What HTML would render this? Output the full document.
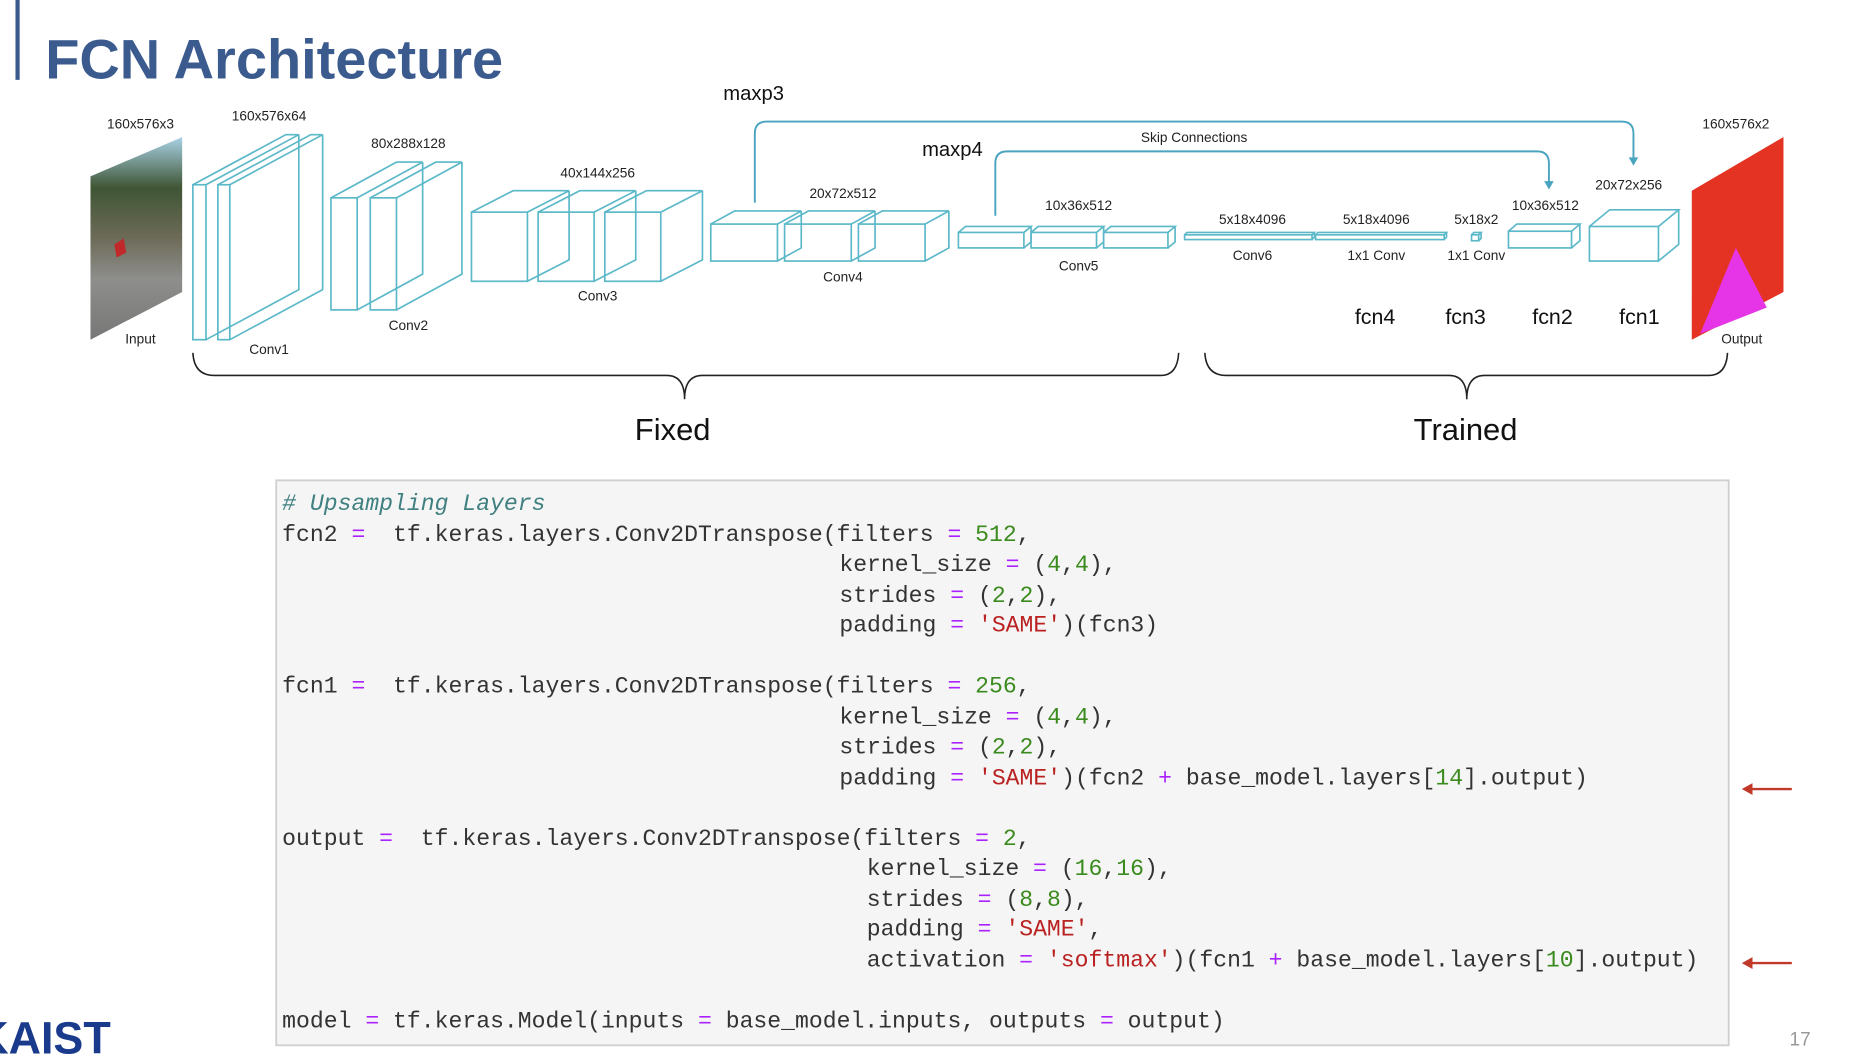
<!DOCTYPE html>
<html><head><meta charset="utf-8"><style>
html,body{margin:0;padding:0;background:#fff;width:1868px;height:1062px;overflow:hidden}
svg{display:block}
.lbl{font-family:"Liberation Sans",sans-serif;font-size:11.5px;fill:#222;text-anchor:middle}
.bx rect,.bx path{fill:none;stroke:#5bb8c8;stroke-width:1.4}
.code{font-family:"Liberation Mono","DejaVu Sans Mono",monospace;font-size:19.4px;fill:#333;white-space:pre}
.op{fill:#aa22ff}.num{fill:#3a8a1e}.str{fill:#ba2121}.cm{fill:#408080;font-style:italic}
</style></head><body>
<svg width="1868" height="1062" viewBox="0 0 1569 891" preserveAspectRatio="none" xmlns="http://www.w3.org/2000/svg">
<defs>
<linearGradient id="ph" x1="0" y1="0" x2="0" y2="1">
<stop offset="0" stop-color="#a9d2e6"/><stop offset="0.25" stop-color="#3f5534"/><stop offset="0.5" stop-color="#6d6b58"/><stop offset="0.7" stop-color="#8e8e8c"/><stop offset="1" stop-color="#777"/></linearGradient>
</defs>
<rect x="13" y="0" width="3.5" height="67" fill="#3a5a8c"/>
<text x="38" y="66" font-family="Liberation Sans,sans-serif" font-weight="bold" font-size="47" fill="#3b5b8f">FCN Architecture</text>

<polygon points="76,148 153,115 153,245 76,285" fill="url(#ph)"/>
<polygon points="96,205 104,200 106,212 98,216" fill="#c0282a"/>

<g class="bx">
<rect x="162" y="155" width="11" height="130"/><path d="M162 155 l78 -42 h11 l-78 42 m78 -42 v130 l-78 42"/>
<rect x="183" y="155" width="10" height="130"/><path d="M183 155 l78 -42 h10 l-78 42 m78 -42 v130 l-78 42"/>
<rect x="278" y="166" width="22" height="94"/><path d="M278 166 l55 -30 h22 l-55 30 m55 -30 v94 l-55 30"/>
<rect x="311" y="166" width="22" height="94"/><path d="M311 166 l55 -30 h22 l-55 30 m55 -30 v94 l-55 30"/>
<rect x="396" y="178" width="47" height="58"/><path d="M396 178 l35 -18 h47 l-35 18 m35 -18 v58 l-35 18"/>
<rect x="452" y="178" width="47" height="58"/><path d="M452 178 l35 -18 h47 l-35 18 m35 -18 v58 l-35 18"/>
<rect x="508" y="178" width="47" height="58"/><path d="M508 178 l35 -18 h47 l-35 18 m35 -18 v58 l-35 18"/>
<rect x="597" y="188" width="56" height="31"/><path d="M597 188 l20 -11 h56 l-20 11 m20 -11 v31 l-20 11"/>
<rect x="659" y="188" width="56" height="31"/><path d="M659 188 l20 -11 h56 l-20 11 m20 -11 v31 l-20 11"/>
<rect x="721" y="188" width="56" height="31"/><path d="M721 188 l20 -11 h56 l-20 11 m20 -11 v31 l-20 11"/>
<rect x="805" y="195" width="55" height="13"/><path d="M805 195 l6 -5 h55 l-6 5 m6 -5 v13 l-6 5"/>
<rect x="866" y="195" width="55" height="13"/><path d="M866 195 l6 -5 h55 l-6 5 m6 -5 v13 l-6 5"/>
<rect x="927" y="195" width="54" height="13"/><path d="M927 195 l6 -5 h54 l-6 5 m6 -5 v13 l-6 5"/>
<rect x="995" y="197" width="107" height="4"/><path d="M995 197 l2 -2 h107 l-2 2 m2 -2 v4 l-2 2"/>
<rect x="1105" y="197" width="108" height="4"/><path d="M1105 197 l2 -2 h108 l-2 2 m2 -2 v4 l-2 2"/>
<rect x="1236" y="197" width="6" height="5"/><path d="M1236 197 l2 -2 h6 l-2 2 m2 -2 v5 l-2 2"/>
<rect x="1267" y="194" width="53" height="14"/><path d="M1267 194 l7 -6 h53 l-7 6 m7 -6 v14 l-7 6"/>
<rect x="1335" y="190" width="58" height="29"/><path d="M1335 190 l17 -14 h58 l-17 14 m17 -14 v29 l-17 14"/>
</g>

<polygon points="1421,160 1498,115 1498,245 1421,285" fill="#e43323"/>
<polygon points="1428,280 1458,208 1484,258" fill="#e535e6"/>

<g fill="none" stroke="#4aa3bf" stroke-width="1.6">
<path d="M634 170 V112 Q634 102 644 102 H1362 Q1372 102 1372 112 V135"/>
<path d="M836 181 V137 Q836 127 846 127 H1291 Q1301 127 1301 137 V155"/>
<path d="M162 296 Q163 315 180 315 H560 Q575 315 575 335 Q575 315 590 315 H975 Q989 315 990 296" stroke="#222" stroke-width="1.3"/>
<path d="M1012 296 Q1013 315 1030 315 H1217 Q1232 315 1232 335 Q1232 315 1247 315 H1435 Q1450 315 1451 296" stroke="#222" stroke-width="1.3"/>
</g>
<polygon points="1368,132 1376,132 1372,139" fill="#4aa3bf"/>
<polygon points="1297,152 1305,152 1301,159" fill="#4aa3bf"/>

<text class="lbl" x="118" y="108">160x576x3</text>
<text class="lbl" x="226" y="101">160x576x64</text>
<text class="lbl" x="343" y="124">80x288x128</text>
<text class="lbl" x="502" y="149">40x144x256</text>
<text class="lbl" x="708" y="166">20x72x512</text>
<text class="lbl" x="906" y="176">10x36x512</text>
<text class="lbl" x="1052" y="188">5x18x4096</text>
<text class="lbl" x="1156" y="188">5x18x4096</text>
<text class="lbl" x="1240" y="188">5x18x2</text>
<text class="lbl" x="1298" y="176">10x36x512</text>
<text class="lbl" x="1368" y="159">20x72x256</text>
<text class="lbl" x="1458" y="108">160x576x2</text>
<text class="lbl" x="118" y="288">Input</text>
<text class="lbl" x="226" y="297">Conv1</text>
<text class="lbl" x="343" y="277">Conv2</text>
<text class="lbl" x="502" y="252">Conv3</text>
<text class="lbl" x="708" y="236">Conv4</text>
<text class="lbl" x="906" y="227">Conv5</text>
<text class="lbl" x="1052" y="218">Conv6</text>
<text class="lbl" x="1156" y="218">1x1 Conv</text>
<text class="lbl" x="1240" y="218">1x1 Conv</text>
<text class="lbl" x="1463" y="288">Output</text>
<text class="lbl" x="1003" y="119">Skip Connections</text>
<g font-family="Liberation Sans,sans-serif" fill="#111" text-anchor="middle">
<text x="633" y="84" font-size="17">maxp3</text>
<text x="800" y="131" font-size="17">maxp4</text>
<text x="1155" y="272" font-size="18">fcn4</text>
<text x="1231" y="272" font-size="18">fcn3</text>
<text x="1304" y="272" font-size="18">fcn2</text>
<text x="1377" y="272" font-size="18">fcn1</text>
<text x="565" y="369" font-size="26">Fixed</text>
<text x="1231" y="369" font-size="26">Trained</text>
</g>

<rect x="232" y="403" width="1220" height="474" fill="#f5f5f5" stroke="#cfcfcf" stroke-width="1.5"/>
<g class="code">
<text x="237" y="428" class="cm"># Upsampling Layers</text>
<text x="237" y="454">fcn2 <tspan class="op">=</tspan>&#160; tf.keras.layers.Conv2DTranspose(filters <tspan class="op">=</tspan> <tspan class="num">512</tspan>,</text>
<text x="705" y="479">kernel_size <tspan class="op">=</tspan> (<tspan class="num">4</tspan>,<tspan class="num">4</tspan>),</text>
<text x="705" y="505">strides <tspan class="op">=</tspan> (<tspan class="num">2</tspan>,<tspan class="num">2</tspan>),</text>
<text x="705" y="530">padding <tspan class="op">=</tspan> <tspan class="str">'SAME'</tspan>)(fcn3)</text>
<text x="237" y="581">fcn1 <tspan class="op">=</tspan>&#160; tf.keras.layers.Conv2DTranspose(filters <tspan class="op">=</tspan> <tspan class="num">256</tspan>,</text>
<text x="705" y="607">kernel_size <tspan class="op">=</tspan> (<tspan class="num">4</tspan>,<tspan class="num">4</tspan>),</text>
<text x="705" y="632">strides <tspan class="op">=</tspan> (<tspan class="num">2</tspan>,<tspan class="num">2</tspan>),</text>
<text x="705" y="658">padding <tspan class="op">=</tspan> <tspan class="str">'SAME'</tspan>)(fcn2 <tspan class="op">+</tspan> base_model.layers[<tspan class="num">14</tspan>].output)</text>
<text x="237" y="709">output <tspan class="op">=</tspan>&#160; tf.keras.layers.Conv2DTranspose(filters <tspan class="op">=</tspan> <tspan class="num">2</tspan>,</text>
<text x="728" y="734">kernel_size <tspan class="op">=</tspan> (<tspan class="num">16</tspan>,<tspan class="num">16</tspan>),</text>
<text x="728" y="760">strides <tspan class="op">=</tspan> (<tspan class="num">8</tspan>,<tspan class="num">8</tspan>),</text>
<text x="728" y="785">padding <tspan class="op">=</tspan> <tspan class="str">'SAME'</tspan>,</text>
<text x="728" y="811">activation <tspan class="op">=</tspan> <tspan class="str">'softmax'</tspan>)(fcn1 <tspan class="op">+</tspan> base_model.layers[<tspan class="num">10</tspan>].output)</text>
<text x="237" y="862">model <tspan class="op">=</tspan> tf.keras.Model(inputs <tspan class="op">=</tspan> base_model.inputs, outputs <tspan class="op">=</tspan> output)</text>
</g>

<g stroke="#c0392b" stroke-width="2" fill="#c0392b">
<line x1="1468" y1="662" x2="1505" y2="662"/><polygon points="1463,662 1472,657 1472,667" stroke="none"/>
<line x1="1468" y1="808" x2="1505" y2="808"/><polygon points="1463,808 1472,803 1472,813" stroke="none"/>
</g>
<text x="1512" y="877" font-family="Liberation Sans,sans-serif" font-size="16" fill="#999" text-anchor="middle">17</text>
<text x="-20" y="884" font-family="Liberation Sans,sans-serif" font-weight="bold" font-size="38" fill="#1a3a8c" textLength="113" lengthAdjust="spacingAndGlyphs">KAIST</text>
</svg>
</body></html>
